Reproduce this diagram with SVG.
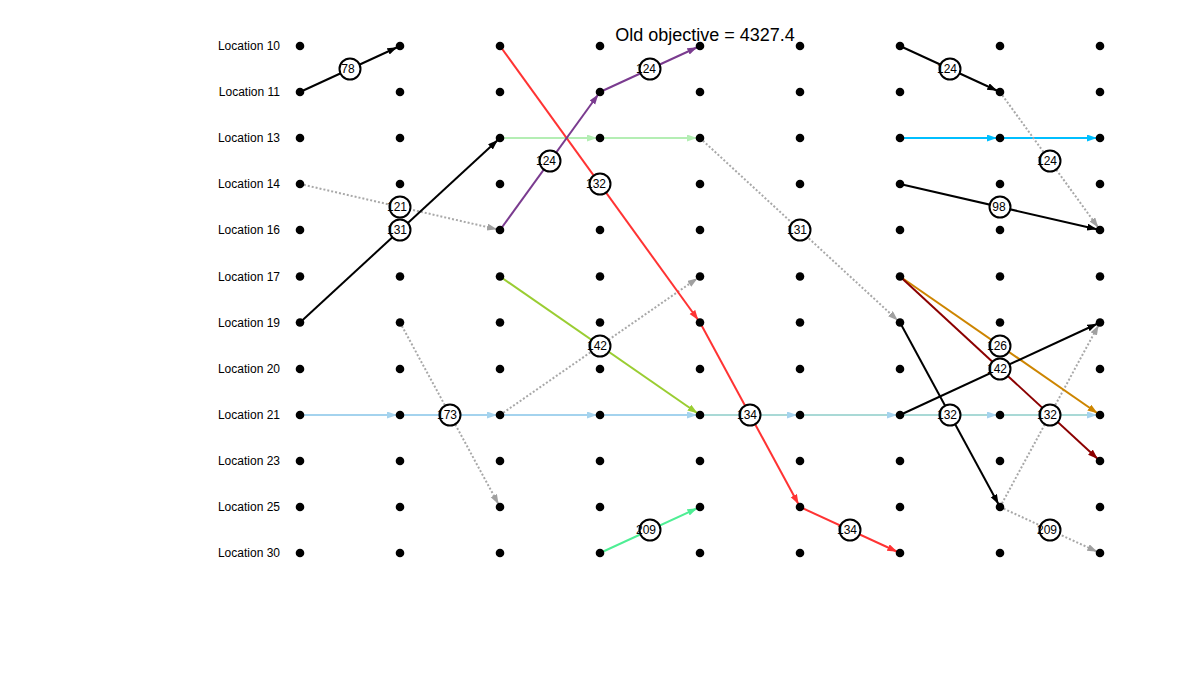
<svg xmlns="http://www.w3.org/2000/svg" width="1200" height="700" viewBox="0 0 1200 700">
<style>
.lbl{font-family:"Liberation Sans",Arial,sans-serif;font-size:12px;fill:#000;text-anchor:end}
.title{font-family:"Liberation Sans",Arial,sans-serif;font-size:18px;fill:#000;text-anchor:middle}
.dot{fill:#000}
.e{fill:none;stroke-width:2}
.dash{stroke:#a8a8a8;stroke-dasharray:2 2}
.bc{fill:#fff;stroke:#000;stroke-width:2}
.bt{font-family:"Liberation Sans",Arial,sans-serif;font-size:12px;fill:#000;text-anchor:middle}
</style>
<defs>
<marker id="aK" markerUnits="userSpaceOnUse" markerWidth="14" markerHeight="8" refX="13" refY="3.5" orient="auto"><path d="M0,0 L10,3.5 L0,7 z" fill="#000"/></marker>
<marker id="aR" markerUnits="userSpaceOnUse" markerWidth="14" markerHeight="8" refX="13" refY="3.5" orient="auto"><path d="M0,0 L10,3.5 L0,7 z" fill="#ff3333"/></marker>
<marker id="aP" markerUnits="userSpaceOnUse" markerWidth="14" markerHeight="8" refX="13" refY="3.5" orient="auto"><path d="M0,0 L10,3.5 L0,7 z" fill="#7a3b8f"/></marker>
<marker id="aLG" markerUnits="userSpaceOnUse" markerWidth="14" markerHeight="8" refX="13" refY="3.5" orient="auto"><path d="M0,0 L10,3.5 L0,7 z" fill="#b4eeb4"/></marker>
<marker id="aC" markerUnits="userSpaceOnUse" markerWidth="14" markerHeight="8" refX="13" refY="3.5" orient="auto"><path d="M0,0 L10,3.5 L0,7 z" fill="#00bfff"/></marker>
<marker id="aG" markerUnits="userSpaceOnUse" markerWidth="14" markerHeight="8" refX="13" refY="3.5" orient="auto"><path d="M0,0 L10,3.5 L0,7 z" fill="#a0a0a0"/></marker>
<marker id="aLB" markerUnits="userSpaceOnUse" markerWidth="14" markerHeight="8" refX="13" refY="3.5" orient="auto"><path d="M0,0 L10,3.5 L0,7 z" fill="#a4d3ee"/></marker>
<marker id="aYG" markerUnits="userSpaceOnUse" markerWidth="14" markerHeight="8" refX="13" refY="3.5" orient="auto"><path d="M0,0 L10,3.5 L0,7 z" fill="#9acd32"/></marker>
<marker id="aO" markerUnits="userSpaceOnUse" markerWidth="14" markerHeight="8" refX="13" refY="3.5" orient="auto"><path d="M0,0 L10,3.5 L0,7 z" fill="#cd8500"/></marker>
<marker id="aDR" markerUnits="userSpaceOnUse" markerWidth="14" markerHeight="8" refX="13" refY="3.5" orient="auto"><path d="M0,0 L10,3.5 L0,7 z" fill="#8b0000"/></marker>
<marker id="aSG" markerUnits="userSpaceOnUse" markerWidth="14" markerHeight="8" refX="13" refY="3.5" orient="auto"><path d="M0,0 L10,3.5 L0,7 z" fill="#4eee94"/></marker>
</defs>
<rect width="1200" height="700" fill="#fff"/>
<text class="title" x="705" y="41">Old objective = 4327.4</text>
<g id="row-labels">
<text class="lbl" x="280" y="50">Location 10</text>
<text class="lbl" x="280" y="96">Location 11</text>
<text class="lbl" x="280" y="142">Location 13</text>
<text class="lbl" x="280" y="188">Location 14</text>
<text class="lbl" x="280" y="234">Location 16</text>
<text class="lbl" x="280" y="280.5">Location 17</text>
<text class="lbl" x="280" y="327">Location 19</text>
<text class="lbl" x="280" y="373">Location 20</text>
<text class="lbl" x="280" y="419">Location 21</text>
<text class="lbl" x="280" y="465">Location 23</text>
<text class="lbl" x="280" y="511">Location 25</text>
<text class="lbl" x="280" y="557">Location 30</text>
</g>
<g id="connectors">
<line class="e" x1="300" y1="415" x2="400" y2="415" stroke="#a4d3ee" marker-end="url(#aLB)"/>
<line class="e" x1="400" y1="415" x2="500" y2="415" stroke="#a4d3ee" marker-end="url(#aLB)"/>
<line class="e" x1="500" y1="415" x2="600" y2="415" stroke="#a4d3ee" marker-end="url(#aLB)"/>
<line class="e" x1="600" y1="415" x2="700" y2="415" stroke="#a4d3ee" marker-end="url(#aLB)"/>
<line class="e" x1="700" y1="415" x2="800" y2="415" stroke="#a9d9d6" marker-end="url(#aLB)"/>
<line class="e" x1="800" y1="415" x2="900" y2="415" stroke="#a9d9d6" marker-end="url(#aLB)"/>
<line class="e" x1="900" y1="415" x2="1000" y2="415" stroke="#a9d9d6" marker-end="url(#aLB)"/>
<line class="e" x1="1000" y1="415" x2="1100" y2="415" stroke="#a9d9d6" marker-end="url(#aLB)"/>
<line class="e" x1="500" y1="138" x2="600" y2="138" stroke="#b4eeb4" marker-end="url(#aLG)"/>
<line class="e" x1="600" y1="138" x2="700" y2="138" stroke="#b4eeb4" marker-end="url(#aLG)"/>
<line class="e" x1="900" y1="138" x2="1000" y2="138" stroke="#00bfff" marker-end="url(#aC)"/>
<line class="e" x1="1000" y1="138" x2="1100" y2="138" stroke="#00bfff" marker-end="url(#aC)"/>
<line class="e dash" x1="300" y1="184" x2="500" y2="230" marker-end="url(#aG)"/>
<line class="e dash" x1="700" y1="138" x2="900" y2="322.5" marker-end="url(#aG)"/>
<line class="e dash" x1="1000" y1="92" x2="1100" y2="230" marker-end="url(#aG)"/>
<line class="e dash" x1="500" y1="415" x2="700" y2="276.5" marker-end="url(#aG)"/>
<line class="e dash" x1="400" y1="322.5" x2="500" y2="507" marker-end="url(#aG)"/>
<line class="e dash" x1="1000" y1="507" x2="1100" y2="322.5" marker-end="url(#aG)"/>
<line class="e dash" x1="1000" y1="507" x2="1100" y2="553" marker-end="url(#aG)"/>
<line class="e" x1="300" y1="92" x2="400" y2="46" stroke="#000" marker-end="url(#aK)"/>
<line class="e" x1="300" y1="322.5" x2="500" y2="138" stroke="#000" marker-end="url(#aK)"/>
<line class="e" x1="900" y1="46" x2="1000" y2="92" stroke="#000" marker-end="url(#aK)"/>
<line class="e" x1="900" y1="184" x2="1100" y2="230" stroke="#000" marker-end="url(#aK)"/>
<line class="e" x1="900" y1="322.5" x2="1000" y2="507" stroke="#000" marker-end="url(#aK)"/>
<line class="e" x1="500" y1="46" x2="700" y2="322.5" stroke="#ff3333" marker-end="url(#aR)"/>
<line class="e" x1="700" y1="322.5" x2="800" y2="507" stroke="#ff3333" marker-end="url(#aR)"/>
<line class="e" x1="800" y1="507" x2="900" y2="553" stroke="#ff3333" marker-end="url(#aR)"/>
<line class="e" x1="500" y1="230" x2="600" y2="92" stroke="#7a3b8f" marker-end="url(#aP)"/>
<line class="e" x1="600" y1="92" x2="700" y2="46" stroke="#7a3b8f" marker-end="url(#aP)"/>
<line class="e" x1="500" y1="276.5" x2="700" y2="415" stroke="#9acd32" marker-end="url(#aYG)"/>
<line class="e" x1="900" y1="276.5" x2="1100" y2="415" stroke="#cd8500" marker-end="url(#aO)"/>
<line class="e" x1="900" y1="276.5" x2="1100" y2="461" stroke="#8b0000" marker-end="url(#aDR)"/>
<line class="e" x1="900" y1="415" x2="1100" y2="322.5" stroke="#000" marker-end="url(#aK)"/>
<line class="e" x1="600" y1="553" x2="700" y2="507" stroke="#4eee94" marker-end="url(#aSG)"/>
</g>
<g id="nodes">
<g id="n-c1-l10"><circle class="dot" cx="300" cy="46" r="4.3"/></g>
<g id="n-c2-l10"><circle class="dot" cx="400" cy="46" r="4.3"/></g>
<g id="n-c3-l10"><circle class="dot" cx="500" cy="46" r="4.3"/></g>
<g id="n-c4-l10"><circle class="dot" cx="600" cy="46" r="4.3"/></g>
<g id="n-c5-l10"><circle class="dot" cx="700" cy="46" r="4.3"/></g>
<g id="n-c6-l10"><circle class="dot" cx="800" cy="46" r="4.3"/></g>
<g id="n-c7-l10"><circle class="dot" cx="900" cy="46" r="4.3"/></g>
<g id="n-c8-l10"><circle class="dot" cx="1000" cy="46" r="4.3"/></g>
<g id="n-c9-l10"><circle class="dot" cx="1100" cy="46" r="4.3"/></g>
<g id="n-c1-l11"><circle class="dot" cx="300" cy="92" r="4.3"/></g>
<g id="n-c2-l11"><circle class="dot" cx="400" cy="92" r="4.3"/></g>
<g id="n-c3-l11"><circle class="dot" cx="500" cy="92" r="4.3"/></g>
<g id="n-c4-l11"><circle class="dot" cx="600" cy="92" r="4.3"/></g>
<g id="n-c5-l11"><circle class="dot" cx="700" cy="92" r="4.3"/></g>
<g id="n-c6-l11"><circle class="dot" cx="800" cy="92" r="4.3"/></g>
<g id="n-c7-l11"><circle class="dot" cx="900" cy="92" r="4.3"/></g>
<g id="n-c8-l11"><circle class="dot" cx="1000" cy="92" r="4.3"/></g>
<g id="n-c9-l11"><circle class="dot" cx="1100" cy="92" r="4.3"/></g>
<g id="n-c1-l13"><circle class="dot" cx="300" cy="138" r="4.3"/></g>
<g id="n-c2-l13"><circle class="dot" cx="400" cy="138" r="4.3"/></g>
<g id="n-c3-l13"><circle class="dot" cx="500" cy="138" r="4.3"/></g>
<g id="n-c4-l13"><circle class="dot" cx="600" cy="138" r="4.3"/></g>
<g id="n-c5-l13"><circle class="dot" cx="700" cy="138" r="4.3"/></g>
<g id="n-c6-l13"><circle class="dot" cx="800" cy="138" r="4.3"/></g>
<g id="n-c7-l13"><circle class="dot" cx="900" cy="138" r="4.3"/></g>
<g id="n-c8-l13"><circle class="dot" cx="1000" cy="138" r="4.3"/></g>
<g id="n-c9-l13"><circle class="dot" cx="1100" cy="138" r="4.3"/></g>
<g id="n-c1-l14"><circle class="dot" cx="300" cy="184" r="4.3"/></g>
<g id="n-c2-l14"><circle class="dot" cx="400" cy="184" r="4.3"/></g>
<g id="n-c3-l14"><circle class="dot" cx="500" cy="184" r="4.3"/></g>
<g id="n-c4-l14"><circle class="dot" cx="600" cy="184" r="4.3"/></g>
<g id="n-c5-l14"><circle class="dot" cx="700" cy="184" r="4.3"/></g>
<g id="n-c6-l14"><circle class="dot" cx="800" cy="184" r="4.3"/></g>
<g id="n-c7-l14"><circle class="dot" cx="900" cy="184" r="4.3"/></g>
<g id="n-c8-l14"><circle class="dot" cx="1000" cy="184" r="4.3"/></g>
<g id="n-c9-l14"><circle class="dot" cx="1100" cy="184" r="4.3"/></g>
<g id="n-c1-l16"><circle class="dot" cx="300" cy="230" r="4.3"/></g>
<g id="n-c2-l16"><circle class="dot" cx="400" cy="230" r="4.3"/></g>
<g id="n-c3-l16"><circle class="dot" cx="500" cy="230" r="4.3"/></g>
<g id="n-c4-l16"><circle class="dot" cx="600" cy="230" r="4.3"/></g>
<g id="n-c5-l16"><circle class="dot" cx="700" cy="230" r="4.3"/></g>
<g id="n-c6-l16"><circle class="dot" cx="800" cy="230" r="4.3"/></g>
<g id="n-c7-l16"><circle class="dot" cx="900" cy="230" r="4.3"/></g>
<g id="n-c8-l16"><circle class="dot" cx="1000" cy="230" r="4.3"/></g>
<g id="n-c9-l16"><circle class="dot" cx="1100" cy="230" r="4.3"/></g>
<g id="n-c1-l17"><circle class="dot" cx="300" cy="276.5" r="4.3"/></g>
<g id="n-c2-l17"><circle class="dot" cx="400" cy="276.5" r="4.3"/></g>
<g id="n-c3-l17"><circle class="dot" cx="500" cy="276.5" r="4.3"/></g>
<g id="n-c4-l17"><circle class="dot" cx="600" cy="276.5" r="4.3"/></g>
<g id="n-c5-l17"><circle class="dot" cx="700" cy="276.5" r="4.3"/></g>
<g id="n-c6-l17"><circle class="dot" cx="800" cy="276.5" r="4.3"/></g>
<g id="n-c7-l17"><circle class="dot" cx="900" cy="276.5" r="4.3"/></g>
<g id="n-c8-l17"><circle class="dot" cx="1000" cy="276.5" r="4.3"/></g>
<g id="n-c9-l17"><circle class="dot" cx="1100" cy="276.5" r="4.3"/></g>
<g id="n-c1-l19"><circle class="dot" cx="300" cy="322.5" r="4.3"/></g>
<g id="n-c2-l19"><circle class="dot" cx="400" cy="322.5" r="4.3"/></g>
<g id="n-c3-l19"><circle class="dot" cx="500" cy="322.5" r="4.3"/></g>
<g id="n-c4-l19"><circle class="dot" cx="600" cy="322.5" r="4.3"/></g>
<g id="n-c5-l19"><circle class="dot" cx="700" cy="322.5" r="4.3"/></g>
<g id="n-c6-l19"><circle class="dot" cx="800" cy="322.5" r="4.3"/></g>
<g id="n-c7-l19"><circle class="dot" cx="900" cy="322.5" r="4.3"/></g>
<g id="n-c8-l19"><circle class="dot" cx="1000" cy="322.5" r="4.3"/></g>
<g id="n-c9-l19"><circle class="dot" cx="1100" cy="322.5" r="4.3"/></g>
<g id="n-c1-l20"><circle class="dot" cx="300" cy="369" r="4.3"/></g>
<g id="n-c2-l20"><circle class="dot" cx="400" cy="369" r="4.3"/></g>
<g id="n-c3-l20"><circle class="dot" cx="500" cy="369" r="4.3"/></g>
<g id="n-c4-l20"><circle class="dot" cx="600" cy="369" r="4.3"/></g>
<g id="n-c5-l20"><circle class="dot" cx="700" cy="369" r="4.3"/></g>
<g id="n-c6-l20"><circle class="dot" cx="800" cy="369" r="4.3"/></g>
<g id="n-c7-l20"><circle class="dot" cx="900" cy="369" r="4.3"/></g>
<g id="n-c8-l20"><circle class="dot" cx="1000" cy="369" r="4.3"/></g>
<g id="n-c9-l20"><circle class="dot" cx="1100" cy="369" r="4.3"/></g>
<g id="n-c1-l21"><circle class="dot" cx="300" cy="415" r="4.3"/></g>
<g id="n-c2-l21"><circle class="dot" cx="400" cy="415" r="4.3"/></g>
<g id="n-c3-l21"><circle class="dot" cx="500" cy="415" r="4.3"/></g>
<g id="n-c4-l21"><circle class="dot" cx="600" cy="415" r="4.3"/></g>
<g id="n-c5-l21"><circle class="dot" cx="700" cy="415" r="4.3"/></g>
<g id="n-c6-l21"><circle class="dot" cx="800" cy="415" r="4.3"/></g>
<g id="n-c7-l21"><circle class="dot" cx="900" cy="415" r="4.3"/></g>
<g id="n-c8-l21"><circle class="dot" cx="1000" cy="415" r="4.3"/></g>
<g id="n-c9-l21"><circle class="dot" cx="1100" cy="415" r="4.3"/></g>
<g id="n-c1-l23"><circle class="dot" cx="300" cy="461" r="4.3"/></g>
<g id="n-c2-l23"><circle class="dot" cx="400" cy="461" r="4.3"/></g>
<g id="n-c3-l23"><circle class="dot" cx="500" cy="461" r="4.3"/></g>
<g id="n-c4-l23"><circle class="dot" cx="600" cy="461" r="4.3"/></g>
<g id="n-c5-l23"><circle class="dot" cx="700" cy="461" r="4.3"/></g>
<g id="n-c6-l23"><circle class="dot" cx="800" cy="461" r="4.3"/></g>
<g id="n-c7-l23"><circle class="dot" cx="900" cy="461" r="4.3"/></g>
<g id="n-c8-l23"><circle class="dot" cx="1000" cy="461" r="4.3"/></g>
<g id="n-c9-l23"><circle class="dot" cx="1100" cy="461" r="4.3"/></g>
<g id="n-c1-l25"><circle class="dot" cx="300" cy="507" r="4.3"/></g>
<g id="n-c2-l25"><circle class="dot" cx="400" cy="507" r="4.3"/></g>
<g id="n-c3-l25"><circle class="dot" cx="500" cy="507" r="4.3"/></g>
<g id="n-c4-l25"><circle class="dot" cx="600" cy="507" r="4.3"/></g>
<g id="n-c5-l25"><circle class="dot" cx="700" cy="507" r="4.3"/></g>
<g id="n-c6-l25"><circle class="dot" cx="800" cy="507" r="4.3"/></g>
<g id="n-c7-l25"><circle class="dot" cx="900" cy="507" r="4.3"/></g>
<g id="n-c8-l25"><circle class="dot" cx="1000" cy="507" r="4.3"/></g>
<g id="n-c9-l25"><circle class="dot" cx="1100" cy="507" r="4.3"/></g>
<g id="n-c1-l30"><circle class="dot" cx="300" cy="553" r="4.3"/></g>
<g id="n-c2-l30"><circle class="dot" cx="400" cy="553" r="4.3"/></g>
<g id="n-c3-l30"><circle class="dot" cx="500" cy="553" r="4.3"/></g>
<g id="n-c4-l30"><circle class="dot" cx="600" cy="553" r="4.3"/></g>
<g id="n-c5-l30"><circle class="dot" cx="700" cy="553" r="4.3"/></g>
<g id="n-c6-l30"><circle class="dot" cx="800" cy="553" r="4.3"/></g>
<g id="n-c7-l30"><circle class="dot" cx="900" cy="553" r="4.3"/></g>
<g id="n-c8-l30"><circle class="dot" cx="1000" cy="553" r="4.3"/></g>
<g id="n-c9-l30"><circle class="dot" cx="1100" cy="553" r="4.3"/></g>
</g>
<g id="edge-labels">
<circle class="bc" cx="350" cy="69" r="10.5"/><text class="bt" x="348" y="73">78</text>
<circle class="bc" cx="400" cy="207" r="10.5"/><text class="bt" x="397" y="211">121</text>
<circle class="bc" cx="400" cy="230" r="10.5"/><text class="bt" x="397" y="234">131</text>
<circle class="bc" cx="450" cy="415" r="10.5"/><text class="bt" x="447" y="419">173</text>
<circle class="bc" cx="550" cy="161" r="10.5"/><text class="bt" x="546" y="165">124</text>
<circle class="bc" cx="600" cy="184" r="10.5"/><text class="bt" x="596" y="188">132</text>
<circle class="bc" cx="600" cy="346" r="10.5"/><text class="bt" x="597" y="350">142</text>
<circle class="bc" cx="650" cy="69" r="10.5"/><text class="bt" x="646" y="73">124</text>
<circle class="bc" cx="650" cy="530" r="10.5"/><text class="bt" x="646" y="534">209</text>
<circle class="bc" cx="750" cy="415" r="10.5"/><text class="bt" x="747" y="419">134</text>
<circle class="bc" cx="800" cy="230" r="10.5"/><text class="bt" x="797" y="234">131</text>
<circle class="bc" cx="850" cy="530" r="10.5"/><text class="bt" x="847" y="534">134</text>
<circle class="bc" cx="950" cy="69" r="10.5"/><text class="bt" x="947" y="73">124</text>
<circle class="bc" cx="950" cy="415" r="10.5"/><text class="bt" x="947" y="419">132</text>
<circle class="bc" cx="1000" cy="207" r="10.5"/><text class="bt" x="999" y="211">98</text>
<circle class="bc" cx="1000" cy="346" r="10.5"/><text class="bt" x="997" y="350">126</text>
<circle class="bc" cx="1000" cy="369" r="10.5"/><text class="bt" x="997" y="373">142</text>
<circle class="bc" cx="1050" cy="161" r="10.5"/><text class="bt" x="1047" y="165">124</text>
<circle class="bc" cx="1050" cy="415" r="10.5"/><text class="bt" x="1047" y="419">132</text>
<circle class="bc" cx="1050" cy="530" r="10.5"/><text class="bt" x="1047" y="534">209</text>
</g>
</svg>
